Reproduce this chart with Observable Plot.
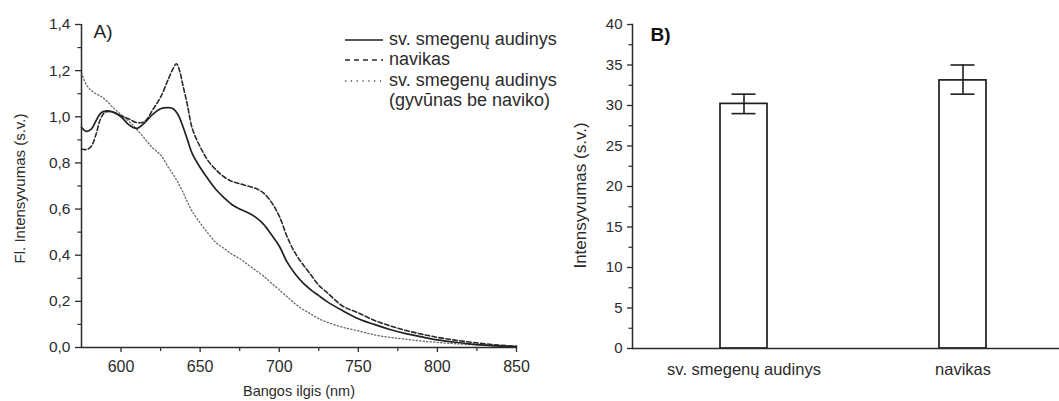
<!DOCTYPE html>
<html><head><meta charset="utf-8">
<script src="https://cdn.jsdelivr.net/npm/d3@7"></script>
<script src="https://cdn.jsdelivr.net/npm/@observablehq/plot@0.6"></script>
<style>
html,body{margin:0;padding:0;background:#fff;}
#wrap{display:flex;width:1059px;height:401px;font-family:"Liberation Sans",Arial,sans-serif;}
svg{display:block;overflow:visible}
</style></head><body><div id="wrap"></div>
<script>
// ---- Panel A data ----
const wavelengths = [575,578,581,584,587,590,595,600,605,610,615,620,625,630,633,636,639,642,645,650,655,660,665,670,675,680,685,690,695,700,705,710,715,720,725,730,740,750,760,770,780,790,800,810,820,830,840,850];
const normalTissue = [0.955,0.937,0.945,0.98,1.015,1.025,1.02,1.0,0.965,0.95,0.975,1.01,1.035,1.04,1.035,1.01,0.96,0.9,0.84,0.78,0.73,0.685,0.65,0.62,0.6,0.585,0.565,0.535,0.49,0.44,0.37,0.32,0.28,0.25,0.225,0.2,0.16,0.125,0.1,0.078,0.06,0.046,0.033,0.024,0.016,0.01,0.006,0.003];
const tumorWavelengths = [575,578,581,584,587,590,595,600,605,610,615,620,625,630,633,635,637,639,642,645,650,655,660,665,670,675,680,685,690,695,700,705,710,715,720,725,730,740,750,760,770,780,790,800,810,820,830,840,850];
const tumor = [0.86,0.858,0.87,0.92,0.99,1.02,1.02,1.005,0.99,0.975,0.98,1.03,1.085,1.165,1.21,1.23,1.2,1.14,1.05,0.95,0.87,0.81,0.77,0.74,0.72,0.71,0.7,0.69,0.67,0.63,0.57,0.48,0.41,0.36,0.315,0.27,0.24,0.18,0.15,0.118,0.094,0.074,0.058,0.044,0.033,0.024,0.016,0.01,0.006];
const controlTissue = [1.19,1.14,1.115,1.1,1.09,1.075,1.04,1.01,0.98,0.945,0.905,0.865,0.835,0.78,0.75,0.715,0.675,0.63,0.59,0.54,0.495,0.455,0.43,0.405,0.385,0.36,0.335,0.31,0.28,0.25,0.22,0.19,0.165,0.145,0.125,0.11,0.088,0.072,0.055,0.044,0.036,0.028,0.022,0.017,0.013,0.01,0.007,0.005];
const legendLabels = ["sv. smegenų audinys", "navikas", "sv. smegenų audinys", "(gyvūnas be naviko)"];
const yTicksA = [0, 0.2, 0.4, 0.6, 0.8, 1.0, 1.2, 1.4];
const xTicksA = [600, 650, 700, 750, 800, 850];

// ---- Panel B data ----
const barCategories = ["sv. smegenų audinys", "navikas"];
const barValues = [30.2, 33.1];
const errLow = [29.0, 31.4];
const errHigh = [31.4, 35.0];
const yTicksB = [0, 5, 10, 15, 20, 25, 30, 35, 40];

const FONT = "'Liberation Sans', Arial, sans-serif";
const INK = "#2b2b2b";
const fmtComma = d => d.toFixed(1).replace(".", ",");

const rowsNormal = wavelengths.map((w, i) => ({w, v: normalTissue[i]}));
const rowsTumor = tumorWavelengths.map((w, i) => ({w, v: tumor[i]}));
const rowsControl = wavelengths.map((w, i) => ({w, v: controlTissue[i]}));

const plotA = Plot.plot({
  width: 560, height: 401,
  marginLeft: 81, marginRight: 44, marginTop: 24, marginBottom: 54,
  style: {fontFamily: FONT, color: INK, background: "white", overflow: "visible"},
  x: {domain: [575, 850]},
  y: {domain: [0, 1.4]},
  marks: [
    Plot.line(rowsControl, {x: "w", y: "v", stroke: "#666", strokeWidth: 1.3, strokeDasharray: "1.2,2.3", curve: "catmull-rom"}),
    Plot.line(rowsTumor, {x: "w", y: "v", stroke: "#2a2a2a", strokeWidth: 1.6, strokeDasharray: "4.5,2.5", curve: "catmull-rom"}),
    Plot.line(rowsNormal, {x: "w", y: "v", stroke: "#222", strokeWidth: 1.7, curve: "catmull-rom"}),
    Plot.ruleX([575], {stroke: INK, strokeWidth: 1.5}),
    Plot.ruleY([0], {stroke: INK, strokeWidth: 1.5}),
    Plot.axisY(yTicksA, {tickSize: 6, tickPadding: 5, tickFormat: fmtComma, fontSize: 15.5, strokeWidth: 1.3, label: null}),
    Plot.axisY(d3.range(0.1, 1.4, 0.2), {tickSize: 3.5, tickFormat: () => "", strokeWidth: 1.2, label: null}),
    Plot.axisX(xTicksA, {tickSize: 5, tickPadding: 8, fontSize: 16, strokeWidth: 1.3, label: null}),
    Plot.axisX(d3.range(625, 850, 50), {tickSize: 4, tickFormat: () => "", strokeWidth: 1.2, label: null}),
    Plot.text(["Bangos ilgis (nm)"], {frameAnchor: "bottom", dy: 44, lineAnchor: "middle", textAnchor: "middle", fontSize: 14.5, fill: INK}),
    Plot.text(["Fl. Intensyvumas (s.v.)"], {frameAnchor: "left", rotate: -90, dx: -61, dy: 2.5, lineAnchor: "middle", textAnchor: "middle", fontSize: 15, fill: INK}),
    Plot.text(["A)"], {frameAnchor: "top-left", dx: 12, dy: 0, textAnchor: "start", lineAnchor: "top", fontSize: 19, fill: "#222"})
  ]
});

// legend for panel A
const svgA = d3.select(plotA);
const lg = svgA.append("g").attr("font-family", FONT).attr("font-size", 18).attr("fill", INK).attr("text-anchor", "start");
const legendStyles = [
  {dash: null, w: 1.7, c: "#222"},
  {dash: "5,4", w: 1.6, c: "#2a2a2a"},
  {dash: "1.3,4.5", w: 1.3, c: "#555"}
];
const legendY = [40, 60, 81];
legendStyles.forEach((s, i) => {
  const ln = lg.append("line").attr("x1", 345).attr("x2", 383).attr("y1", legendY[i]).attr("y2", legendY[i])
    .attr("stroke", s.c).attr("stroke-width", s.w);
  if (s.dash) ln.attr("stroke-dasharray", s.dash);
});
[44.5, 65, 86, 106].forEach((y, i) => {
  lg.append("text").attr("x", 389).attr("y", y).attr("text-anchor", "start").text(legendLabels[i]);
});

// ---- Panel B ----
const bars = barCategories.map((c, i) => ({c, v: barValues[i], lo: errLow[i], hi: errHigh[i]}));
const plotB = Plot.plot({
  width: 499, height: 401,
  marginLeft: 72, marginRight: 0, marginTop: 24, marginBottom: 53,
  style: {fontFamily: FONT, color: INK, background: "white", overflow: "visible"},
  x: {domain: barCategories, range: [160, 426], paddingInner: 0.787, paddingOuter: 0},
  y: {domain: [0, 40]},
  marks: [
    Plot.barY(bars, {x: "c", y: "v", fill: "white", stroke: "#1e1e1e", strokeWidth: 1.7}),
    Plot.ruleX(bars, {x: "c", y1: "lo", y2: "hi", stroke: "#1e1e1e", strokeWidth: 1.6}),
    Plot.tickY(bars, {x: "c", y: "lo", insetLeft: 11.5, insetRight: 11.5, stroke: "#1e1e1e", strokeWidth: 1.6}),
    Plot.tickY(bars, {x: "c", y: "hi", insetLeft: 11.5, insetRight: 11.5, stroke: "#1e1e1e", strokeWidth: 1.6}),
    Plot.ruleY([0], {stroke: INK, strokeWidth: 1.5}),
    Plot.frame({anchor: "left", stroke: INK, strokeWidth: 1.5}),
    Plot.axisY(yTicksB, {tickSize: 5, tickPadding: 5, fontSize: 15, strokeWidth: 1.3, label: null}),
    Plot.axisY(d3.range(2.5, 40, 5), {tickSize: 3.5, tickFormat: () => "", strokeWidth: 1.2, label: null}),
    Plot.axisX({tickSize: 0, tickPadding: 14.5, fontSize: 16.5, label: null}),
    Plot.text(["Intensyvumas (s.v.)"], {frameAnchor: "left", rotate: -90, dx: -52, dy: 9, lineAnchor: "middle", textAnchor: "middle", fontSize: 17, fill: INK}),
    Plot.text(["B)"], {frameAnchor: "top-left", dx: 18, dy: 3, textAnchor: "start", lineAnchor: "top", fontSize: 19, fontWeight: "bold", fill: "#111"})
  ]
});

const wrap = document.getElementById("wrap");
wrap.appendChild(plotA);
wrap.appendChild(plotB);
</script></body></html>
